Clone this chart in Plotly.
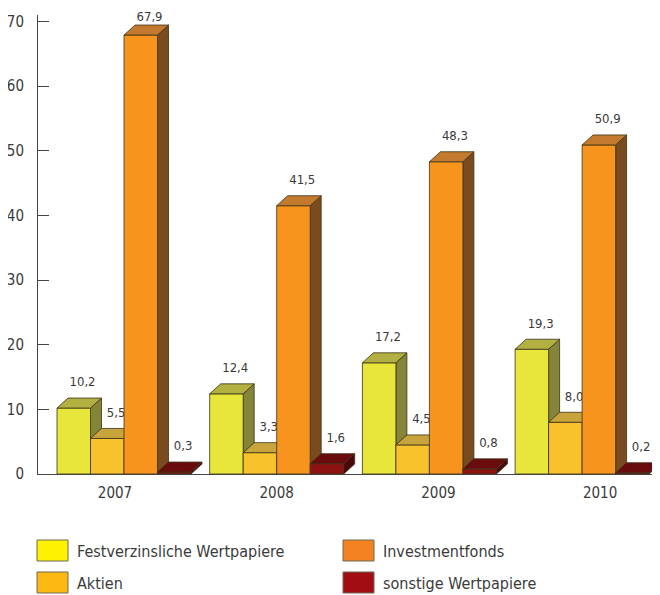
import plotly.graph_objects as go

# ---------------- data ----------------
years = ["2007", "2008", "2009", "2010"]
series_names = ["Festverzinsliche Wertpapiere", "Aktien", "Investmentfonds", "sonstige Wertpapiere"]
festverzinsliche = [10.2, 12.4, 17.2, 19.3]
aktien = [5.5, 3.3, 4.5, 8.0]
investmentfonds = [67.9, 41.5, 48.3, 50.9]
sonstige = [0.3, 1.6, 0.8, 0.2]
y_ticks = [0, 10, 20, 30, 40, 50, 60, 70]

values = [festverzinsliche, aktien, investmentfonds, sonstige]

# ---------------- styles ----------------
front_colors = ["#E8E63A", "#F8C22C", "#F7941E", "#8E1212"]
top_colors = ["#B3B042", "#C9A43C", "#C47A2E", "#6A0C0E"]
side_colors = ["#85853A", "#9A7A2A", "#7A4B1E", "#4A0808"]
legend_colors = ["#FFF200", "#FDB913", "#F58220", "#A10D12"]
edge_color = "#3a3216"
text_color = "#3a3a3a"
FONT = "DejaVu Sans Condensed, Liberation Sans Narrow, sans-serif"

# the page body has an 8px margin, so the figure is drawn 8px in from the corner
OFF = 8
Y_MAX = 71.0
W, H = 660 - OFF, 595 - OFF
ML, MR, MT, MB = 38 - OFF, 0, 15 - OFF, 121
PW = W - ML - MR
PH = H - MT - MB

GROUP_PX = 152.7
PX_PER_UNIT_Y = PH / Y_MAX
BAR_W = 33.5 / GROUP_PX
DX = 11.0 / GROUP_PX
DY = 10.0 / PX_PER_UNIT_Y
GROUP_CENTER_PX = 124.0 - OFF
x_range = [(ML - GROUP_CENTER_PX) / GROUP_PX, (W - MR - GROUP_CENTER_PX) / GROUP_PX]

LABEL_PX = 161.7
LABEL_FIRST_PX = 115.0 - OFF
x2_range = [(ML - LABEL_FIRST_PX) / LABEL_PX, (W - MR - LABEL_FIRST_PX) / LABEL_PX]

LABEL_GAP = 2.3              # value-label gap above the bar top (y units)
LABEL_MAX_Y = Y_MAX - 0.4    # keep labels inside the axis range and the page


def px_x(px):
    return (px - OFF - ML) / PW


def px_y(py):
    return (MT + PH - (py - OFF)) / PH


fig = go.Figure()

n_series = len(values)
for s, vals in enumerate(values):
    fx, fy, tx, ty, sx, sy = [], [], [], [], [], []
    lx, ly, lt = [], [], []
    for g, v in enumerate(vals):
        x0 = g - n_series / 2 * BAR_W + s * BAR_W
        x1 = x0 + BAR_W
        # front face
        fx += [x0, x1, x1, x0, x0, None]
        fy += [0, 0, v, v, 0, None]
        # top face
        tx += [x0, x1, x1 + DX, x0 + DX, x0, None]
        ty += [v, v, v + DY, v + DY, v, None]
        # side face
        sx += [x1, x1 + DX, x1 + DX, x1, x1, None]
        sy += [0, DY, v + DY, v, 0, None]
        lx.append(x0 + BAR_W / 2 + DX * 0.8)
        ly.append(min(v + DY + LABEL_GAP, LABEL_MAX_Y))
        lt.append(f"{v:.1f}".replace(".", ","))
    for xs, ys, col in ((sx, sy, side_colors[s]), (fx, fy, front_colors[s]), (tx, ty, top_colors[s])):
        fig.add_trace(go.Scatter(
            x=xs, y=ys, mode="lines", fill="toself", fillcolor=col,
            line=dict(color=edge_color, width=0.8), hoverinfo="skip",
            showlegend=False, name=series_names[s]))
    fig.add_trace(go.Scatter(
        x=lx, y=ly, mode="text", text=lt, textposition="middle center",
        textfont=dict(family=FONT, size=13, color=text_color),
        showlegend=False, hoverinfo="skip", cliponaxis=False))

# category axis carrier
fig.add_trace(go.Scatter(x=years, y=[None] * len(years), xaxis="x2", mode="markers",
                         showlegend=False, hoverinfo="skip"))

# custom legend (large swatches like the reference)
legend_pos = [(37, 540), (37, 572), (343, 540), (343, 572)]
shapes = []
annotations = []
for i, name in enumerate(series_names):
    lx0, ly0 = legend_pos[i]
    shapes.append(dict(type="rect", xref="paper", yref="paper",
                       x0=px_x(lx0), x1=px_x(lx0 + 31), y0=px_y(ly0), y1=px_y(ly0 + 21),
                       fillcolor=legend_colors[i], line=dict(color="#6b6b5a", width=1)))
    annotations.append(dict(xref="paper", yref="paper", x=px_x(lx0 + 38), y=px_y(ly0 + 11),
                            xanchor="left", yanchor="middle", showarrow=False, text=name,
                            font=dict(family=FONT, size=16, color=text_color)))

fig.update_layout(
    width=W, height=H,
    margin=dict(l=ML, r=MR, t=MT, b=MB, pad=0, autoexpand=False),
    paper_bgcolor="white", plot_bgcolor="white",
    showlegend=False,
    shapes=shapes, annotations=annotations,
    xaxis=dict(range=x_range, showgrid=False, zeroline=False, showticklabels=False,
               ticks="", showline=True, linecolor="#444444", linewidth=1, fixedrange=True,
               automargin=False),
    xaxis2=dict(overlaying="x", anchor="y", side="bottom", type="category",
                range=x2_range, showgrid=False, zeroline=False, showline=False, ticks="",
                tickfont=dict(family=FONT, size=15, color=text_color), fixedrange=True,
                ticklabelstandoff=8, automargin=False),
    yaxis=dict(range=[0, Y_MAX], tickvals=y_ticks, ticktext=[str(t) for t in y_ticks],
               showgrid=False, zeroline=False, showline=True, linecolor="#444444", linewidth=1,
               ticks="inside", ticklen=11, tickcolor="#444444", tickwidth=1,
               tickfont=dict(family=FONT, size=15, color=text_color),
               ticklabelstandoff=10, fixedrange=True, automargin=False),
)

fig.write_html("out.html")
